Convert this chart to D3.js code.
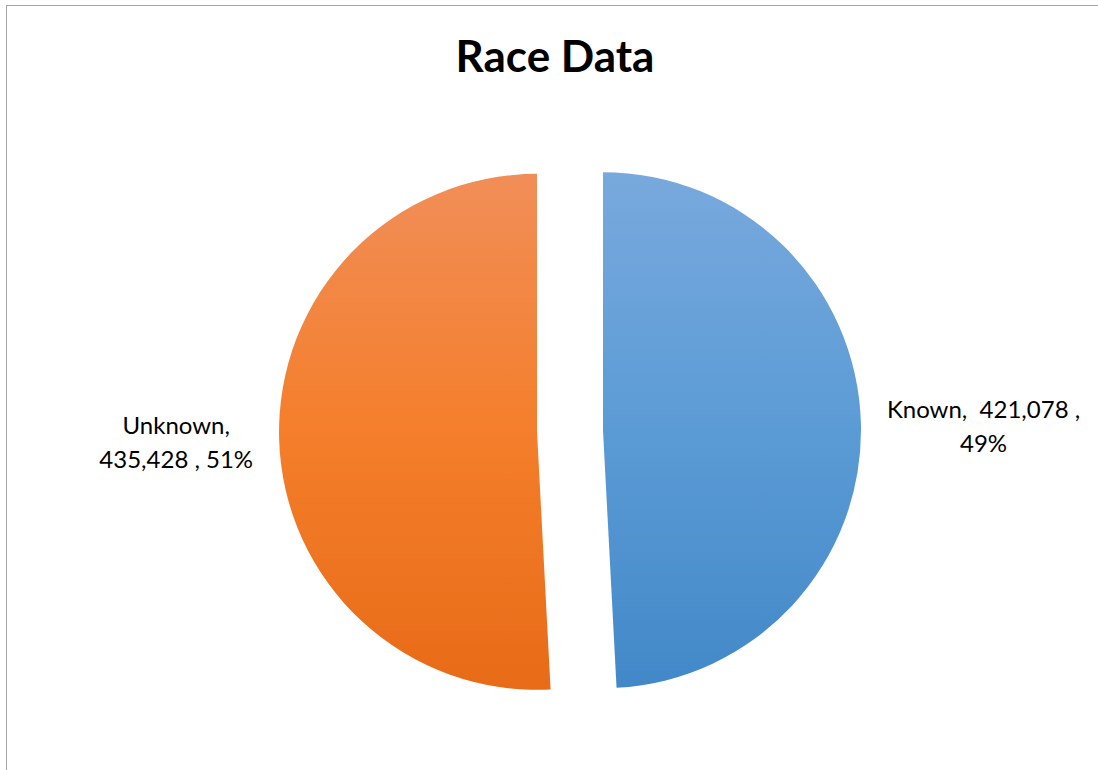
<!DOCTYPE html>
<html>
<head>
<meta charset="utf-8">
<script src="https://cdn.jsdelivr.net/npm/d3@7"></script>
<style>
  body { margin: 0; background: #fff; }
  svg { display: block; }
  text { white-space: pre; }
</style>
</head>
<body>
<svg id="chart" width="1098" height="770"></svg>
<script>
// data
var categories = ["Known", "Unknown"];
var values = [421078, 435428];
var title = "Race Data";

var svg = d3.select("#chart"),
    width = +svg.attr("width"),
    height = +svg.attr("height");

var cx = 570, cy = 431, radius = 258, explode = 33, labelRadius = 317;

// chart frame (only top and left edge are inside the window)
svg.append("rect")
    .attr("x", 6.5)
    .attr("y", 5.5)
    .attr("width", 1200)
    .attr("height", 900)
    .attr("fill", "none")
    .attr("stroke", "#a6a6a6")
    .attr("stroke-width", 1);

// vertical gradients like the office style (in the slice's own coords)
var defs = svg.append("defs");
var gradStops = {
  Known: [["0%", "#78a9dd"], ["50%", "#5b9bd5"], ["100%", "#4288c8"]],
  Unknown: [["0%", "#f18e58"], ["50%", "#f47e2b"], ["100%", "#e86b17"]]
};
categories.forEach(function(c) {
  var lg = defs.append("linearGradient")
      .attr("id", "grad-" + c)
      .attr("gradientUnits", "userSpaceOnUse")
      .attr("x1", 0).attr("y1", -radius)
      .attr("x2", 0).attr("y2", radius);
  gradStops[c].forEach(function(s) {
    lg.append("stop").attr("offset", s[0]).attr("stop-color", s[1]);
  });
});

svg.append("text")
    .attr("x", 555)
    .attr("y", 72)
    .attr("text-anchor", "middle")
    .style("font-family", "Lato, 'Open Sans', sans-serif")
    .style("font-weight", "bold")
    .style("font-size", "44px")
    .style("fill", "#000")
    .text(title);

var data = categories.map(function(c, i) { return {name: c, value: values[i]}; });
var total = d3.sum(values);

var pie = d3.pie()
    .sort(null)
    .value(function(d) { return d.value; })
    .startAngle(0)
    .endAngle(2 * Math.PI);

var arc = d3.arc().innerRadius(0).outerRadius(radius);

var arcs = pie(data);

var g = svg.append("g")
    .attr("transform", "translate(" + cx + "," + cy + ")");

g.selectAll(".slice")
  .data(arcs)
  .enter().append("path")
    .attr("class", "slice")
    .attr("transform", function(d) {
      var a = (d.startAngle + d.endAngle) / 2;
      return "translate(" + (Math.sin(a) * explode) + "," + (-Math.cos(a) * explode) + ")";
    })
    .attr("d", arc)
    .attr("fill", function(d) { return "url(#grad-" + d.data.name + ")"; });

// labels: name, value, percent
var fmt = d3.format(",");
var pct = d3.format(".0%");
var labelLines = {
  Known: function(d) { return [d.data.name + ",  " + fmt(d.data.value) + " ,", pct(d.data.value / total)]; },
  Unknown: function(d) { return [d.data.name + ",", fmt(d.data.value) + " , " + pct(d.data.value / total)]; }
};

var lineH = 34;
arcs.forEach(function(d) {
  var a = (d.startAngle + d.endAngle) / 2;
  var px = Math.sin(a) * labelRadius, py = -Math.cos(a) * labelRadius;
  var lines = labelLines[d.data.name](d);
  var t = g.append("text")
      .style("font-family", "Lato, 'Open Sans', sans-serif")
      .style("font-size", "24px")
      .style("fill", "#000")
      .attr("text-anchor", "middle");
  lines.forEach(function(l, i) {
    t.append("tspan").attr("x", 0).attr("y", i * lineH).text(l);
  });
  // width of the label box, text sits on the slice side
  var w = t.node().getBBox().width;
  var bx = Math.sin(a) > 0 ? px + w / 2 : px - w / 2;
  var by = py + 4 - (lines.length - 1) * lineH / 2 + 8;
  t.attr("transform", "translate(" + bx + "," + by + ")");
});
</script>
</body>
</html>
